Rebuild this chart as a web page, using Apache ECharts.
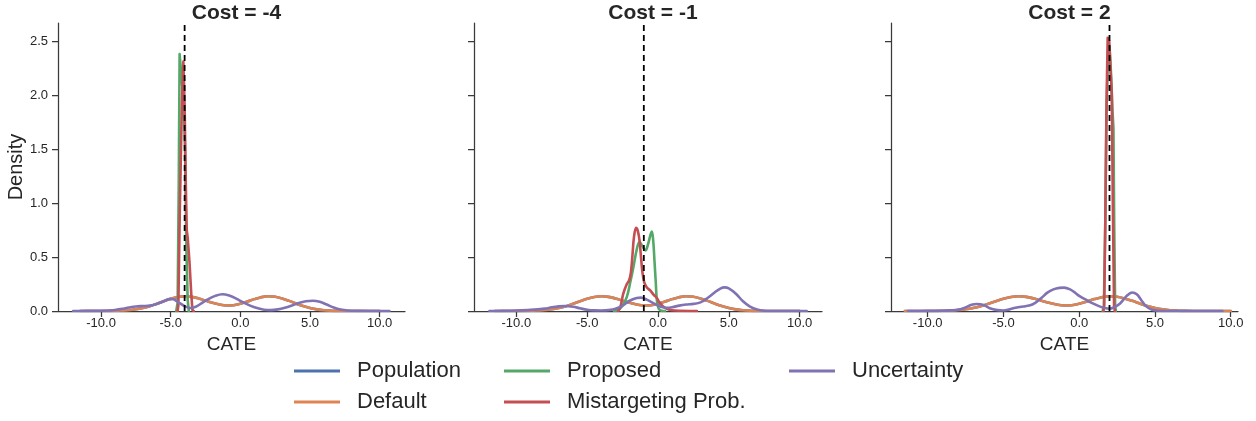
<!DOCTYPE html>
<html>
<head>
<meta charset="utf-8">
<script src="https://cdn.jsdelivr.net/npm/echarts@6/dist/echarts.min.js"></script>
<style>
  html, body { margin: 0; padding: 0; background: #ffffff; }
  #chart { width: 1256px; height: 421px; }
</style>
</head>
<body>
<div id="chart"></div>
<script>
// Cost levels, one panel each
const costs = [-4, -1, 2];
const xTicks = [-10, -5, 0, 5, 10];
const yTicks = [0, 0.5, 1, 1.5, 2, 2.5];
const seriesNames = ['Population', 'Default', 'Proposed', 'Mistargeting Prob.', 'Uncertainty'];

// Density of the CATE over the whole population ([CATE, density])
const populationKde = [
  [-11.5, 0], [-10, 0], [-9, 0.002], [-8.5, 0.005], [-8, 0.009], [-7.5, 0.016], [-7, 0.028],
  [-6.5, 0.045], [-6, 0.067], [-5.5, 0.091], [-5, 0.113], [-4.5, 0.129], [-4, 0.136],
  [-3.5, 0.131], [-3, 0.116], [-2.5, 0.096], [-2, 0.076], [-1.5, 0.06], [-1, 0.051],
  [-0.5, 0.054], [0, 0.068], [0.5, 0.088], [1, 0.11], [1.5, 0.128], [2, 0.137], [2.5, 0.132],
  [3, 0.116], [3.5, 0.094], [4, 0.069], [4.5, 0.046], [5, 0.028], [5.5, 0.015], [6, 0.007],
  [6.5, 0.003], [7, 0.001], [8, 0], [10, 0]
];
// The default policy treats everyone, so its curve is the population's
const defaultKde = populationKde;

// Cost = -4
const proposedCostM4 = [
  [-4.6, 0], [-4.5, 0.08], [-4.42, 1.2], [-4.36, 2.38], [-4.28, 2.38], [-4.18, 2.1],
  [-4.05, 1.87], [-3.97, 1.5], [-3.88, 0.6], [-3.78, 0.1], [-3.7, 0]
];
const mistargetingCostM4 = [
  [-4.5, 0], [-4.45, 0.05], [-4.35, 0.9], [-4.2, 1.9], [-4.09, 2.31], [-4.0, 1.9],
  [-3.92, 1.2], [-3.85, 0.75], [-3.78, 0.68], [-3.65, 0.45], [-3.52, 0.15], [-3.44, 0.01], [-3.35, 0]
];
const uncertaintyCostM4 = [
  [-12, 0], [-11, 0.001], [-10, 0.003], [-9, 0.01], [-8.5, 0.02], [-8, 0.032], [-7.5, 0.042],
  [-7, 0.046], [-6.5, 0.05], [-6, 0.065], [-5.5, 0.09], [-5.1, 0.11], [-4.8, 0.108],
  [-4.5, 0.085], [-4, 0.045], [-3.6, 0.028], [-3.2, 0.04], [-2.8, 0.07], [-2.3, 0.11],
  [-1.8, 0.14], [-1.3, 0.155], [-0.8, 0.143], [-0.3, 0.115], [0.2, 0.08], [0.7, 0.05],
  [1.2, 0.027], [1.7, 0.012], [2.2, 0.008], [2.7, 0.015], [3.2, 0.03], [3.7, 0.05],
  [4.2, 0.075], [4.7, 0.091], [5.2, 0.095], [5.7, 0.085], [6.2, 0.06], [6.7, 0.032],
  [7.2, 0.013], [7.7, 0.004], [8.5, 0.001], [10.7, 0]
];

// Cost = -1
const proposedCostM1 = [
  [-3.1, 0], [-2.8, 0.01], [-2.5, 0.05], [-2.2, 0.13], [-1.95, 0.27], [-1.73, 0.41],
  [-1.5, 0.57], [-1.3, 0.64], [-1.1, 0.6], [-0.88, 0.56], [-0.7, 0.62], [-0.52, 0.71],
  [-0.43, 0.735], [-0.33, 0.64], [-0.25, 0.47], [-0.15, 0.25], [-0.08, 0.1], [0.05, 0.02],
  [0.25, 0.003], [0.5, 0]
];
const mistargetingCostM1 = [
  [-2.8, 0], [-2.65, 0.04], [-2.45, 0.16], [-2.2, 0.25], [-2.05, 0.28], [-1.92, 0.35],
  [-1.8, 0.52], [-1.7, 0.68], [-1.55, 0.77], [-1.42, 0.74], [-1.3, 0.65], [-1.2, 0.5],
  [-1.1, 0.36], [-0.98, 0.27], [-0.8, 0.22], [-0.55, 0.19], [-0.3, 0.15], [-0.08, 0.12],
  [0.1, 0.08], [0.3, 0.05], [0.5, 0.03], [0.75, 0.015], [1.2, 0.005], [2.75, 0]
];
const uncertaintyCostM1 = [
  [-11.9, 0], [-11, 0.001], [-10, 0.004], [-9, 0.01], [-8, 0.022], [-7.5, 0.034],
  [-7, 0.043], [-6.6, 0.046], [-6, 0.04], [-5.5, 0.025], [-5, 0.012], [-4.5, 0.006],
  [-4, 0.005], [-3.5, 0.008], [-3, 0.02], [-2.5, 0.05], [-2, 0.095], [-1.5, 0.12],
  [-1.2, 0.124], [-0.8, 0.105], [-0.3, 0.07], [0.2, 0.04], [0.6, 0.03], [1, 0.035],
  [1.5, 0.05], [2, 0.06], [2.5, 0.066], [3, 0.08], [3.5, 0.12], [4, 0.172], [4.4, 0.208],
  [4.7, 0.219], [5, 0.21], [5.5, 0.16], [6, 0.09], [6.5, 0.04], [7, 0.013], [7.5, 0.003],
  [8.5, 0], [10.5, 0]
];

// Cost = 2
const proposedCost2 = [
  [1.55, 0], [1.63, 0.05], [1.72, 0.8], [1.8, 1.8], [1.9, 2.4], [2.0, 2.45], [2.1, 2.2],
  [2.2, 1.85], [2.26, 1.69], [2.31, 0.8], [2.37, 0.05], [2.42, 0]
];
const mistargetingCost2 = [
  [1.6, 0], [1.65, 0.05], [1.72, 0.8], [1.8, 1.9], [1.88, 2.53], [1.98, 2.5], [2.08, 2.2],
  [2.15, 2.0], [2.22, 1.0], [2.3, 0.05], [2.35, 0]
];
const uncertaintyCost2 = [
  [-11.3, 0], [-10, 0.001], [-9, 0.003], [-8.5, 0.006], [-8, 0.012], [-7.5, 0.033],
  [-7.1, 0.058], [-6.75, 0.065], [-6.3, 0.055], [-5.9, 0.025], [-5.4, 0.008], [-5, 0.004],
  [-4.6, 0.015], [-4.2, 0.03], [-3.7, 0.042], [-3.3, 0.05], [-2.9, 0.075], [-2.5, 0.12],
  [-2.1, 0.17], [-1.7, 0.2], [-1.3, 0.214], [-1.0, 0.216], [-0.6, 0.2], [-0.3, 0.172],
  [0, 0.14], [0.5, 0.1], [0.9, 0.07], [1.3, 0.045], [1.7, 0.027], [2.0, 0.022],
  [2.3, 0.035], [2.7, 0.07], [3.1, 0.135], [3.5, 0.172], [3.8, 0.155], [4.1, 0.1],
  [4.4, 0.045], [4.8, 0.012], [5.3, 0.002], [6, 0], [9.45, 0]
];

const proposedByPanel = [proposedCostM4, proposedCostM1, proposedCost2];
const mistargetingByPanel = [mistargetingCostM4, mistargetingCostM1, mistargetingCost2];
const uncertaintyByPanel = [uncertaintyCostM4, uncertaintyCostM1, uncertaintyCost2];

// Panel geometry and axis extents
const gridLefts = [58, 474, 891];
const gridWidths = [347, 348, 347];
const gridTop = 23;
const gridHeight = 288;
const xMins = [-13.09, -12.99, -12.42];
const xMaxs = [11.82, 11.58, 10.48];
const yMax = 2.667;

const colors = {
  'Population': '#4c72b0',
  'Default': '#dd8452',
  'Proposed': '#55a868',
  'Mistargeting Prob.': '#c44e52',
  'Uncertainty': '#8172b3'
};
const ink = '#262626';
const axisInk = '#3a3a3a';
const font = "'Liberation Sans', Arial, sans-serif";

const grids = [], xAxes = [], yAxes = [], titles = [], series = [];

costs.forEach((cost, i) => {
  grids.push({ left: gridLefts[i], top: gridTop, width: gridWidths[i], height: gridHeight, containLabel: false });

  titles.push({
    text: 'Cost = ' + cost,
    left: gridLefts[i] + gridWidths[i] / 2,
    top: -2,
    textAlign: 'center',
    textStyle: { fontFamily: font, fontSize: 21, fontWeight: 'bold', color: ink }
  });

  xAxes.push({
    type: 'value', gridIndex: i, min: xMins[i], max: xMaxs[i],
    name: 'CATE', nameLocation: 'middle', nameGap: 21,
    nameTextStyle: { fontFamily: font, fontSize: 19, color: ink },
    axisLine: { show: true, onZero: false, lineStyle: { color: axisInk, width: 1.25 } },
    axisTick: { show: true, length: 6, customValues: xTicks, lineStyle: { color: axisInk, width: 1.25 } },
    axisLabel: { show: true, customValues: xTicks, margin: 6, fontFamily: font, fontSize: 13, color: ink,
      formatter: v => v.toFixed(1) },
    splitLine: { show: false }
  });

  yAxes.push({
    type: 'value', gridIndex: i, min: 0, max: yMax,
    name: i === 0 ? 'Density' : '', nameLocation: 'middle', nameGap: 30,
    nameTextStyle: { fontFamily: font, fontSize: 20, color: ink },
    axisLine: { show: true, onZero: false, lineStyle: { color: axisInk, width: 1.25 } },
    axisTick: { show: true, length: 6, customValues: yTicks, lineStyle: { color: axisInk, width: 1.25 } },
    axisLabel: { show: i === 0, customValues: yTicks, margin: 10, fontFamily: font, fontSize: 13, color: ink,
      formatter: v => v.toFixed(1) },
    splitLine: { show: false }
  });

  const panelData = {
    'Population': [populationKde, true],
    'Default': [defaultKde, true],
    'Proposed': [proposedByPanel[i], i === 1],
    'Mistargeting Prob.': [mistargetingByPanel[i], i === 1],
    'Uncertainty': [uncertaintyByPanel[i], true]
  };
  seriesNames.forEach(name => {
    const [data, smooth] = panelData[name];
    series.push({
      type: 'line', name, xAxisIndex: i, yAxisIndex: i, data,
      showSymbol: false, symbol: 'none', smooth: smooth ? 0.35 : false,
      color: colors[name],
      lineStyle: { color: colors[name], width: 2.6, cap: 'round', join: 'round' },
      silent: true
    });
  });

  // Vertical reference at the cost level
  series.push({
    type: 'line', name: 'cost' + i, xAxisIndex: i, yAxisIndex: i,
    data: [[cost, 0], [cost, yMax]],
    showSymbol: false, symbol: 'none', z: 10, silent: true,
    lineStyle: { color: '#000000', width: 1.8, type: [6, 4] }
  });
});

const legendCommon = {
  orient: 'vertical', top: 359, padding: 0, itemGap: 7,
  icon: 'rect', itemWidth: 46, itemHeight: 3,
  selectedMode: false,
  textStyle: { fontFamily: font, fontSize: 22, lineHeight: 24, color: ink, padding: [0, 0, 0, 12] }
};

const chart = echarts.init(document.getElementById('chart'), null, { renderer: 'canvas' });
chart.setOption({
  animation: false,
  backgroundColor: '#ffffff',
  title: titles,
  grid: grids,
  xAxis: xAxes,
  yAxis: yAxes,
  legend: [
    Object.assign({}, legendCommon, { left: 294, data: ['Population', 'Default'] }),
    Object.assign({}, legendCommon, { left: 504, data: ['Proposed', 'Mistargeting Prob.'] }),
    Object.assign({}, legendCommon, { left: 789, data: ['Uncertainty'] })
  ],
  series
});
</script>
</body>
</html>
